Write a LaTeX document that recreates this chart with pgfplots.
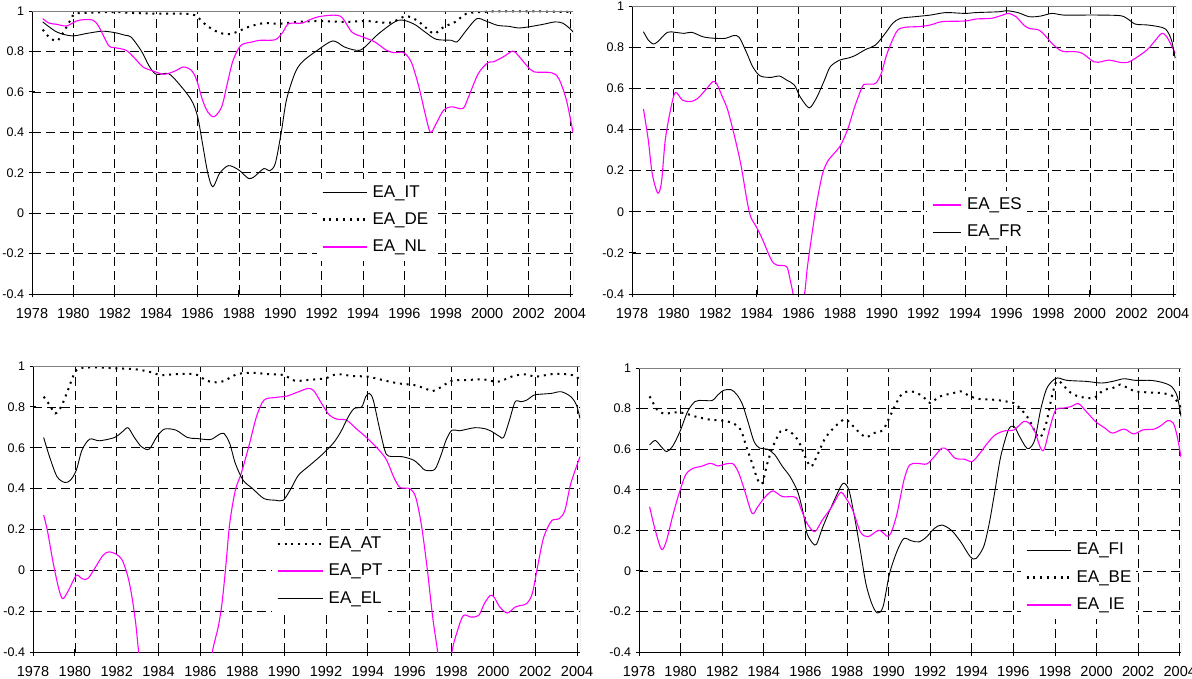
\documentclass[border=0pt]{standalone}
\usepackage{pgfplots}
\pgfplotsset{compat=1.18}
\usepackage{fontspec}
\setmainfont{Liberation Sans}
\definecolor{mag}{RGB}{255,0,255}
\pgfplotsset{
  panel/.style={
    scale only axis,
    xmin=1978, xmax=2004.15,
    ymin=-0.4, ymax=1,
    axis x line*=bottom, axis y line*=left,
    axis line style={-, black, line width=0.8pt},
    xtick={1978,1980,1982,1984,1986,1988,1990,1992,1994,1996,1998,2000,2002,2004},
    xticklabels={1978,1980,1982,1984,1986,1988,1990,1992,1994,1996,1998,2000,2002,2004},
    ytick={-0.4,-0.2,0,0.2,0.4,0.6,0.8,1},
    yticklabels={-0.4,-0.2,0,0.2,0.4,0.6,0.8,1},
    tick align=center, major tick length=7pt,
    tick style={black, line width=0.8pt},
    grid=major,
    major grid style={black, line width=0.7pt, dash pattern=on 9pt off 5pt},
    xticklabel style={font=\fontsize{14.5}{16}\selectfont, yshift=-7.5pt},
    yticklabel style={font=\fontsize{12.5}{14}\selectfont, xshift=-1pt},
    legend cell align=left,
    legend style={draw=none, fill=white, inner xsep=5pt, inner ysep=6pt, outer sep=0pt,
      font=\fontsize{17}{20}\selectfont, column sep=5pt, row sep=11.3pt,
      nodes={inner sep=0pt, text height=12.5pt, text depth=3.5pt}},
  },
  blk/.style={black, line width=0.9pt, line join=round, smooth, tension=0.5},
  mg/.style={mag, line width=1.1pt, line join=round, smooth, tension=0.5},
  dt/.style={black, line width=2.0pt, dash pattern=on 2.0pt off 4.8pt, smooth, tension=0.5},
}
\newcommand{\frameGray}{\draw[gray, line width=0.8pt] (rel axis cs:0,1) -- (rel axis cs:1,1) -- (rel axis cs:1,0);}
\begin{document}
\begin{tikzpicture}
\useasboundingbox (0pt,0pt) rectangle (1192pt,678pt);
% ---------------- Panel 1 ----------------
\begin{axis}[panel, at={(32pt,384pt)}, anchor=south west, width=541pt, height=283pt,
  legend style={at={(0.526,0.408)}, anchor=north west},
  legend image code/.code={\draw[#1] (0pt,0pt) -- (44pt,0pt); \draw[#1] (0pt,0.5pt) -- (44pt,0.5pt);}]
\addplot[blk] coordinates {(1978.52,0.946) (1979.2,0.896) (1979.94,0.877) (1980.7,0.89) (1981.4,0.90) (1982.0,0.893) (1982.5,0.88) (1982.8,0.87) (1983.3,0.80) (1983.65,0.73) (1984.0,0.687) (1984.6,0.69) (1985.1,0.64) (1985.7,0.56) (1986.0,0.48) (1986.24,0.345) (1986.5,0.197) (1986.74,0.13) (1987.07,0.197) (1987.5,0.235) (1988.0,0.213) (1988.46,0.172) (1988.74,0.18) (1989.2,0.22) (1989.5,0.21) (1989.76,0.246) (1990.04,0.394) (1990.3,0.56) (1990.7,0.69) (1991.06,0.748) (1991.8,0.806) (1992.54,0.852) (1993.1,0.822) (1993.65,0.806) (1994.0,0.814) (1994.76,0.888) (1995.7,0.954) (1996.43,0.937) (1997.0,0.896) (1997.54,0.86) (1998.28,0.855) (1998.55,0.847) (1999.0,0.905) (1999.5,0.962) (1999.95,0.95) (2000.5,0.929) (2001.06,0.924) (2001.5,0.916) (2001.98,0.921) (2002.7,0.934) (2003.28,0.946) (2003.65,0.94) (2004.0,0.913) (2004.15,0.896)};
\addlegendentry{EA\_IT}
\addplot[dt] coordinates {(1978.52,0.908) (1978.83,0.87) (1979.2,0.852) (1979.48,0.888) (1979.85,0.954) (1980.1,0.987) (1981.05,0.992) (1982.0,0.995) (1982.9,0.99) (1984.0,0.987) (1985.1,0.987) (1985.87,0.979) (1986.43,0.929) (1986.98,0.896) (1987.44,0.885) (1987.9,0.896) (1988.46,0.921) (1989.2,0.94) (1989.94,0.937) (1990.87,0.946) (1991.98,0.95) (1993.1,0.946) (1994.2,0.95) (1995.3,0.942) (1996.06,0.974) (1996.6,0.954) (1997.0,0.921) (1997.44,0.888) (1997.9,0.921) (1998.46,0.946) (1999.0,0.987) (1999.76,0.995) (2000.5,0.998) (2002.35,0.998) (2004.1,0.995)};
\addlegendentry{EA\_DE}
\addplot[mg] coordinates {(1978.52,0.962) (1978.83,0.94) (1979.2,0.934) (1979.67,0.926) (1980.13,0.95) (1980.5,0.957) (1980.96,0.954) (1981.24,0.921) (1981.7,0.83) (1982.0,0.819) (1982.54,0.806) (1982.9,0.773) (1983.37,0.723) (1983.83,0.704) (1984.39,0.687) (1984.94,0.704) (1985.31,0.723) (1985.7,0.707) (1985.96,0.658) (1986.24,0.56) (1986.5,0.50) (1986.8,0.477) (1987.17,0.526) (1987.44,0.641) (1987.72,0.756) (1988.1,0.83) (1988.65,0.847) (1989.02,0.855) (1989.76,0.858) (1990.13,0.896) (1990.4,0.937) (1991.06,0.94) (1991.43,0.957) (1991.98,0.974) (1992.9,0.974) (1993.46,0.896) (1994.0,0.871) (1994.57,0.847) (1995.13,0.806) (1995.5,0.794) (1995.96,0.794) (1996.33,0.748) (1996.7,0.625) (1997.0,0.493) (1997.26,0.40) (1997.54,0.444) (1997.9,0.51) (1998.28,0.526) (1998.83,0.518) (1999.1,0.575) (1999.57,0.69) (2000.04,0.745) (2000.3,0.748) (2000.78,0.773) (2001.24,0.802) (2001.5,0.78) (2001.9,0.732) (2002.26,0.699) (2003.1,0.695) (2003.46,0.666) (2003.83,0.56) (2004.15,0.40)};
\addlegendentry{EA\_NL}
\frameGray
\end{axis}
% ---------------- Panel 2 ----------------
\begin{axis}[panel, at={(632pt,384pt)}, anchor=south west, width=544pt, height=288pt,
  xmax=2004.14,
  legend style={at={(0.543,0.357)}, anchor=north west},
  legend image code/.code={\draw[#1] (0pt,0pt) -- (28.5pt,0pt); \draw[#1] (0pt,0.45pt) -- (28.5pt,0.45pt);}]
\addplot[mg] coordinates {(1978.55,0.50) (1978.78,0.35) (1978.97,0.186) (1979.24,0.09) (1979.42,0.146) (1979.6,0.35) (1979.88,0.51) (1980.09,0.58) (1980.42,0.543) (1980.79,0.535) (1981.15,0.55) (1981.6,0.60) (1981.88,0.632) (1982.06,0.624) (1982.34,0.559) (1982.6,0.494) (1982.97,0.348) (1983.25,0.219) (1983.52,0.057) (1983.7,-0.024) (1983.97,-0.073) (1984.25,-0.13) (1984.7,-0.235) (1984.98,-0.26) (1985.43,-0.267) (1985.6,-0.332) (1985.74,-0.40) (1986.0,-0.55) (1986.29,-0.40) (1986.43,-0.267) (1986.7,-0.073) (1986.9,0.057) (1987.16,0.186) (1987.44,0.251) (1987.98,0.316) (1988.35,0.397) (1988.7,0.51) (1989.07,0.608) (1989.25,0.62) (1989.7,0.624) (1989.98,0.673) (1990.26,0.77) (1990.71,0.875) (1991.08,0.896) (1991.8,0.90) (1992.35,0.908) (1992.9,0.924) (1993.99,0.927) (1994.54,0.937) (1995.27,0.94) (1995.81,0.956) (1996.09,0.964) (1996.45,0.948) (1996.82,0.908) (1997.09,0.891) (1997.55,0.883) (1997.9,0.851) (1998.18,0.818) (1998.55,0.786) (1998.82,0.778) (1999.27,0.778) (1999.64,0.77) (2000.19,0.729) (2000.55,0.729) (2000.92,0.737) (2001.46,0.726) (2001.82,0.726) (2002.19,0.746) (2002.74,0.786) (2003.1,0.827) (2003.46,0.867) (2003.74,0.843) (2004.1,0.77)};
\addlegendentry{EA\_ES}
\addplot[blk] coordinates {(1978.55,0.875) (1978.78,0.835) (1979.02,0.815) (1979.24,0.827) (1979.7,0.872) (1980.06,0.872) (1980.51,0.867) (1980.88,0.872) (1981.42,0.85) (1981.97,0.843) (1982.5,0.843) (1982.88,0.856) (1983.15,0.848) (1983.52,0.77) (1983.8,0.705) (1984.16,0.66) (1984.7,0.653) (1985.07,0.66) (1985.43,0.64) (1985.8,0.616) (1986.07,0.56) (1986.43,0.51) (1986.6,0.51) (1986.9,0.56) (1987.25,0.64) (1987.53,0.705) (1987.98,0.737) (1988.35,0.746) (1988.7,0.758) (1989.25,0.79) (1989.7,0.81) (1990.17,0.867) (1990.53,0.916) (1990.9,0.94) (1991.6,0.948) (1992.35,0.956) (1993.08,0.968) (1993.99,0.964) (1994.54,0.968) (1995.63,0.972) (1996.0,0.977) (1996.54,0.968) (1997.09,0.948) (1997.63,0.951) (1998.18,0.964) (1998.73,0.956) (1999.82,0.956) (2000.37,0.956) (2001.46,0.953) (2001.82,0.937) (2002.19,0.912) (2002.74,0.908) (2003.28,0.90) (2003.65,0.887) (2003.92,0.835) (2004.1,0.746)};
\addlegendentry{EA\_FR}
\frameGray
\end{axis}
% ---------------- Panel 3 ----------------
\begin{axis}[panel, at={(33pt,26pt)}, anchor=south west, width=547pt, height=286pt,
  xmax=2004.14,
  legend style={at={(0.4364,0.426)}, anchor=north west},
  legend image code/.code={\draw[#1] (0pt,0pt) -- (45pt,0pt); \draw[#1] (0pt,0.45pt) -- (45pt,0.45pt);}]
\addplot[dt] coordinates {(1978.51,0.85) (1978.79,0.81) (1979.06,0.768) (1979.34,0.80) (1979.61,0.866) (1979.98,0.964) (1980.25,0.989) (1980.99,0.993) (1981.9,0.989) (1982.82,0.985) (1983.55,0.972) (1984.1,0.956) (1984.83,0.96) (1985.75,0.96) (1986.3,0.928) (1986.85,0.92) (1987.21,0.931) (1987.76,0.96) (1988.49,0.967) (1989.23,0.96) (1989.96,0.956) (1990.51,0.928) (1991.06,0.931) (1991.97,0.94) (1992.52,0.96) (1993.26,0.951) (1993.99,0.948) (1994.72,0.931) (1995.45,0.915) (1996.19,0.907) (1996.74,0.89) (1997.1,0.877) (1997.47,0.895) (1998.02,0.928) (1998.75,0.931) (1999.48,0.935) (2000.22,0.923) (2000.95,0.951) (2001.5,0.959) (2002.05,0.948) (2002.78,0.96) (2003.51,0.96) (2003.97,0.948) (2004.14,0.923)};
\addlegendentry{EA\_AT}
\addplot[mg] coordinates {(1978.51,0.27) (1978.7,0.188) (1978.97,0.033) (1979.25,-0.098) (1979.43,-0.139) (1979.7,-0.098) (1980.07,-0.025) (1980.34,-0.041) (1980.62,-0.041) (1980.99,0.016) (1981.35,0.074) (1981.63,0.09) (1981.99,0.078) (1982.27,0.049) (1982.54,-0.033) (1982.73,-0.131) (1982.91,-0.261) (1983.05,-0.40) (1983.3,-0.6) (1986.3,-0.6) (1986.57,-0.40) (1986.85,-0.278) (1987.03,-0.163) (1987.21,0.016) (1987.4,0.229) (1987.67,0.392) (1987.95,0.474) (1988.31,0.605) (1988.68,0.752) (1989.04,0.833) (1989.59,0.846) (1990.14,0.853) (1990.69,0.874) (1991.15,0.89) (1991.42,0.879) (1991.79,0.817) (1992.16,0.76) (1992.52,0.74) (1992.98,0.735) (1993.44,0.694) (1993.99,0.645) (1994.54,0.588) (1994.9,0.539) (1995.27,0.449) (1995.55,0.405) (1996.0,0.40) (1996.28,0.36) (1996.55,0.229) (1996.83,0.016) (1997.1,-0.229) (1997.34,-0.40) (1997.6,-0.6) (1997.8,-0.6) (1998.02,-0.40) (1998.29,-0.294) (1998.57,-0.221) (1998.93,-0.229) (1999.3,-0.221) (1999.57,-0.163) (1999.85,-0.123) (2000.03,-0.131) (2000.31,-0.18) (2000.67,-0.209) (2001.04,-0.18) (2001.32,-0.172) (2001.59,-0.163) (2001.86,-0.114) (2002.14,0.033) (2002.41,0.163) (2002.78,0.242) (2003.15,0.253) (2003.42,0.294) (2003.7,0.425) (2004.14,0.556)};
\addlegendentry{EA\_PT}
\addplot[blk] coordinates {(1978.51,0.65) (1978.79,0.556) (1979.15,0.458) (1979.52,0.43) (1979.79,0.441) (1980.07,0.49) (1980.34,0.588) (1980.71,0.642) (1981.17,0.634) (1981.9,0.65) (1982.27,0.678) (1982.54,0.698) (1982.82,0.654) (1983.18,0.605) (1983.55,0.593) (1983.92,0.654) (1984.28,0.691) (1984.83,0.686) (1985.38,0.65) (1985.84,0.645) (1986.48,0.64) (1986.85,0.662) (1987.12,0.67) (1987.4,0.621) (1987.67,0.523) (1988.04,0.441) (1988.49,0.40) (1989.04,0.351) (1989.59,0.343) (1989.96,0.343) (1990.33,0.40) (1990.69,0.466) (1991.24,0.515) (1991.79,0.564) (1992.34,0.621) (1992.71,0.678) (1993.07,0.752) (1993.35,0.792) (1993.71,0.80) (1993.9,0.85) (1994.08,0.866) (1994.26,0.833) (1994.54,0.703) (1994.81,0.588) (1995.0,0.559) (1995.64,0.556) (1996.19,0.539) (1996.55,0.507) (1996.74,0.49) (1997.19,0.493) (1997.47,0.556) (1997.74,0.637) (1998.02,0.686) (1998.38,0.683) (1999.12,0.698) (1999.67,0.691) (2000.03,0.673) (2000.31,0.654) (2000.49,0.65) (2000.77,0.735) (2001.04,0.825) (2001.32,0.825) (2001.59,0.833) (2001.96,0.858) (2002.41,0.863) (2002.78,0.866) (2003.24,0.874) (2003.7,0.85) (2003.97,0.809) (2004.14,0.743)};
\addlegendentry{EA\_EL}
\frameGray
\end{axis}
% ---------------- Panel 4 ----------------
\begin{axis}[panel, at={(639pt,26pt)}, anchor=south west, width=542pt, height=284pt,
  xmax=2004.06,
  legend style={at={(0.704,0.407)}, anchor=north west},
  legend image code/.code={\draw[#1] (0pt,0pt) -- (44pt,0pt); \draw[#1] (0pt,0.45pt) -- (44pt,0.45pt);}]
\addplot[blk] coordinates {(1978.51,0.621) (1978.78,0.643) (1979.06,0.613) (1979.33,0.588) (1979.61,0.613) (1979.97,0.687) (1980.34,0.786) (1980.7,0.835) (1981.07,0.84) (1981.52,0.84) (1981.8,0.868) (1982.07,0.89) (1982.43,0.893) (1982.71,0.868) (1982.98,0.819) (1983.26,0.728) (1983.53,0.638) (1983.8,0.605) (1984.17,0.60) (1984.53,0.572) (1984.9,0.514) (1985.26,0.465) (1985.63,0.39) (1985.9,0.283) (1986.08,0.184) (1986.36,0.135) (1986.54,0.132) (1986.81,0.209) (1987.18,0.30) (1987.54,0.382) (1987.82,0.432) (1988.09,0.399) (1988.36,0.267) (1988.64,0.102) (1988.91,-0.063) (1989.19,-0.161) (1989.46,-0.208) (1989.73,-0.178) (1990.01,-0.03) (1990.19,0.036) (1990.46,0.11) (1990.74,0.16) (1991.1,0.148) (1991.47,0.143) (1991.83,0.168) (1992.2,0.209) (1992.56,0.226) (1993.02,0.20) (1993.47,0.143) (1993.93,0.069) (1994.2,0.061) (1994.57,0.119) (1994.84,0.234) (1995.12,0.399) (1995.39,0.563) (1995.76,0.695) (1996.03,0.712) (1996.3,0.662) (1996.58,0.613) (1996.76,0.603) (1997.03,0.646) (1997.31,0.794) (1997.58,0.893) (1997.85,0.934) (1998.13,0.951) (1998.58,0.939) (1999.5,0.934) (2000.23,0.926) (2000.77,0.934) (2001.32,0.947) (2001.87,0.939) (2002.6,0.939) (2003.15,0.929) (2003.6,0.909) (2003.88,0.86) (2004.06,0.761)};
\addlegendentry{EA\_FI}
\addplot[dt] coordinates {(1978.51,0.86) (1978.88,0.794) (1979.24,0.774) (1979.61,0.781) (1980.15,0.778) (1980.7,0.761) (1981.43,0.745) (1981.98,0.741) (1982.53,0.728) (1982.89,0.695) (1983.16,0.613) (1983.44,0.53) (1983.71,0.448) (1983.93,0.432) (1984.17,0.53) (1984.44,0.613) (1984.8,0.687) (1985.08,0.695) (1985.45,0.67) (1985.72,0.629) (1985.99,0.563) (1986.27,0.514) (1986.54,0.563) (1986.91,0.646) (1987.27,0.695) (1987.82,0.745) (1988.09,0.736) (1988.46,0.695) (1988.91,0.659) (1989.28,0.679) (1989.73,0.695) (1990.1,0.769) (1990.55,0.86) (1990.92,0.885) (1991.38,0.876) (1991.83,0.843) (1992.01,0.827) (1992.47,0.86) (1993.11,0.876) (1993.47,0.885) (1993.93,0.86) (1994.39,0.847) (1995.12,0.843) (1995.66,0.835) (1996.03,0.827) (1996.39,0.794) (1996.76,0.745) (1997.12,0.67) (1997.31,0.659) (1997.58,0.728) (1997.85,0.86) (1998.07,0.934) (1998.31,0.926) (1998.67,0.885) (1999.13,0.86) (1999.86,0.852) (2000.32,0.89) (2000.77,0.901) (2001.14,0.918) (2001.5,0.901) (2001.87,0.885) (2002.42,0.88) (2003.15,0.876) (2003.69,0.86) (2004.06,0.802)};
\addlegendentry{EA\_BE}
\addplot[mg] coordinates {(1978.51,0.316) (1978.78,0.201) (1979.09,0.105) (1979.33,0.152) (1979.61,0.267) (1979.88,0.366) (1980.24,0.473) (1980.61,0.506) (1980.97,0.514) (1981.43,0.53) (1981.8,0.517) (1982.16,0.527) (1982.53,0.527) (1982.8,0.481) (1983.07,0.399) (1983.44,0.283) (1983.71,0.316) (1984.08,0.366) (1984.44,0.394) (1984.9,0.366) (1985.54,0.362) (1985.81,0.30) (1986.08,0.234) (1986.45,0.193) (1986.81,0.25) (1987.27,0.316) (1987.64,0.382) (1987.82,0.379) (1988.27,0.30) (1988.64,0.193) (1989.0,0.168) (1989.55,0.20) (1990.01,0.171) (1990.37,0.267) (1990.74,0.448) (1991.01,0.522) (1991.38,0.53) (1991.83,0.527) (1992.2,0.563) (1992.56,0.605) (1992.84,0.596) (1993.2,0.555) (1993.66,0.55) (1994.02,0.539) (1994.39,0.58) (1994.75,0.629) (1995.12,0.67) (1995.57,0.69) (1996.03,0.695) (1996.49,0.736) (1996.76,0.728) (1997.03,0.687) (1997.31,0.605) (1997.49,0.601) (1997.77,0.712) (1998.04,0.794) (1998.4,0.802) (1998.77,0.81) (1999.13,0.824) (1999.5,0.786) (1999.95,0.736) (2000.41,0.703) (2000.77,0.679) (2001.32,0.699) (2001.78,0.675) (2002.23,0.695) (2002.78,0.699) (2003.15,0.72) (2003.42,0.741) (2003.69,0.728) (2003.88,0.662) (2004.06,0.56)};
\addlegendentry{EA\_IE}
\frameGray
\end{axis}
\end{tikzpicture}
\end{document}
